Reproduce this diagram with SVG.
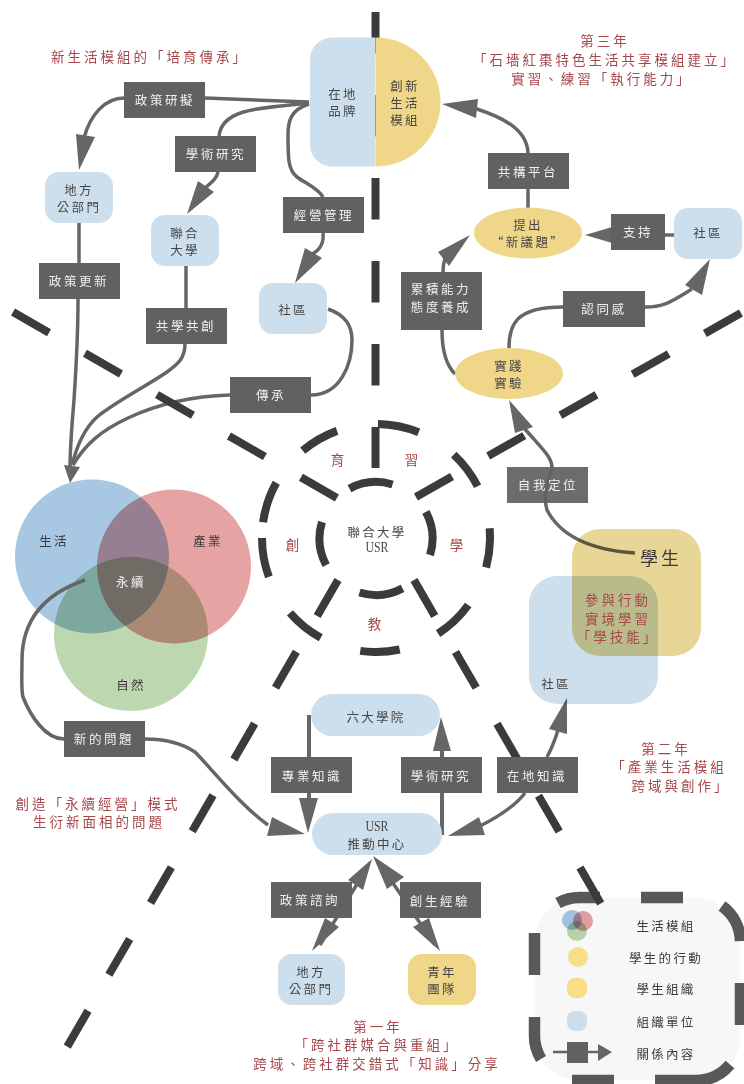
<svg xmlns="http://www.w3.org/2000/svg" width="744" height="1084" viewBox="0 0 744 1084">
<style>
text{font-family:"Noto Sans CJK TC","Noto Sans CJK SC",sans-serif;dominant-baseline:central;text-anchor:middle}
.t{font-size:12.5px;letter-spacing:2.3px;fill:#464646}
.w{font-size:12.5px;letter-spacing:2.6px;fill:#f0f0f0}
.r{font-size:13.5px;letter-spacing:3px;fill:#a6484c}
.l{font-size:12.5px;letter-spacing:2.3px;fill:#3e3a39}
.u{font-family:"Liberation Serif",serif;font-size:15px;fill:#464646}
.b{fill:#606161}
.o{fill:#cddfec}
.y{fill:#efd689}
.c{fill:none;stroke:#666;stroke-width:3.5}
.ah{fill:#666}
.d{fill:none;stroke:#3e3a39;stroke-width:8;stroke-dasharray:41.5 41.5}
.m{mix-blend-mode:multiply}
</style>
<rect width="744" height="1084" fill="#fff"/>
<g id="legend-frame">
<rect x="534.5" y="897.5" width="206" height="183" rx="45" fill="#f7f7f7"/>
<path fill="none" stroke="#595757" stroke-width="11.5" d="M641 897.5 H683 M600 897.5 H579.5 A45 45 0 0 0 558 903 M722 906 A45 45 0 0 1 740.5 941 M740.5 983 V1025 M730 1064.5 A45 45 0 0 1 695.5 1080.5 H655 M614 1080.5 H572 M541 1059 A45 45 0 0 1 534.5 1035.5 V1017 M534.5 975 V933"/>
</g>
<g id="venn">
<circle class="m" cx="92" cy="556.5" r="77" fill="#a8c7e3"/>
<circle class="m" cx="174" cy="566.5" r="77" fill="#e6a3a4"/>
<circle class="m" cx="131" cy="634" r="77" fill="#bdd8b1"/>
<text class="l" x="54" y="540">生活</text>
<text class="l" x="208" y="540">產業</text>
<text class="w" x="131" y="581">永續</text>
<text class="l" x="131" y="684">自然</text>
</g>
<g id="connectors">
<path class="c" d="M309 102 L205 98"/>
<path class="c" d="M124 98 C105 98 90 115 84 138"/>
<polygon class="ah" points="76,134 95,137 79,170"/>
<path class="c" d="M309 103 C262 108 222 108 219 136"/>
<path class="c" d="M218 172 C217 178 212 182 205 188"/>
<polygon class="ah" points="198,181 214,192 187,214"/>
<path class="c" d="M309 104 C290 110 288 122 288 135 C288 158 288 170 297 177 C305 183 318 188 323 197"/>
<path class="c" d="M323 233 C324 243 320 250 312 254"/>
<polygon class="ah" points="305,248 322,258 295,283"/>
<path class="c" d="M79 223 L79 263"/>
<path class="c" d="M78 299 C78 340 76 370 74 400 C72 425 70 445 70 470"/>
<polygon class="ah" points="64,465 80,467 70,483"/>
<path class="c" d="M186 266 L186 308"/>
<path class="c" d="M185 344 C185 358 178 364 167 372 C145 387 115 402 97 417 C85 428 77 445 72 465"/>
<path class="c" d="M328 309 C345 315 352 325 352 340 C352 365 340 395 311 395"/>
<path class="c" d="M230 395 C195 396 160 403 128 418 C100 431 85 445 73 465"/>
<path class="c" d="M528 153 C527 130 505 118 474 108"/>
<polygon class="ah" points="478,99 476,118 442,104"/>
<path class="c" d="M528 189 L528 208"/>
<path class="c" d="M674 235 L665 235"/>
<polygon class="ah" points="585,235 619,225 619,245"/>
<path class="c" d="M455 374 C446 365 442 350 442 330"/>
<path class="c" d="M443 272 C443 265 444 262 445 258"/>
<polygon class="ah" points="438,252 449,266 470,235"/>
<path class="c" d="M509 348 C509 325 515 307 563 307"/>
<path class="c" d="M645 307 C665 307 672 301 692 289"/>
<polygon class="ah" points="685,285 702,295 710,259"/>
<path class="c" d="M635 553 C590 550 560 535 547 510 C543 497 547 480 552 470 C553 458 545 452 524 428"/>
<polygon class="ah" points="509,400 533,427 515,433"/>
<path class="c" d="M547 757 C552 748 555 740 558 730"/>
<polygon class="ah" points="567,698 549,729 567,734"/>
<path class="c" d="M525 793 C515 806 500 816 480 826"/>
<polygon class="ah" points="479,817 485,835 448,836"/>
<path class="c" d="M442 835 L442 745" style="stroke-width:4"/>
<polygon class="ah" points="441,717 433,751 451,751"/>
<path class="c" d="M309 715 L309 800" style="stroke-width:4"/>
<polygon class="ah" points="299,798 318,798 308,833"/>
<path class="c" d="M85 580 C50 592 22 615 22 660 C22 675 21 690 23 697 C30 715 45 739 64 739"/>
<path class="c" d="M145 739 C165 739 183 744 195 752 C210 767 240 805 268 825"/>
<polygon class="ah" points="272,817 267,836 305,834"/>
<path class="c" d="M320 945 L368 866"/>
<polygon class="ah" points="312,951 339,927 325,918"/>
<polygon class="ah" points="372,859 348,880 363,890"/>
<path class="c" d="M380 864 L435 945"/>
<polygon class="ah" points="373,856 387,889 404,877"/>
<polygon class="ah" points="440,951 413,927 429,918"/>
</g>
<g id="dashed-lines">
<path class="d" d="M375.5 12 V468"/>
<path class="d" d="M13 312 L337 498"/>
<path class="d" d="M741 313 L414 498"/>
<path class="d" d="M338 580 L67 1047"/>
<path class="d" d="M414 580 L601 904"/>
<circle cx="376" cy="538" r="114" fill="none" stroke="#3e3a39" stroke-width="8" pathLength="360" transform="rotate(-89 376 538)" stroke-dasharray="21 21 20 22 20 21 21 21 20 21 20 21 20 8 21 21 20 21"/>
<circle cx="376" cy="538.5" r="56.5" fill="none" stroke="#3e3a39" stroke-width="8" pathLength="360" transform="rotate(-118 376 538.5)" stroke-dasharray="45 45"/>
</g>
<g id="student-areas">
<rect class="m" x="572" y="529" width="129" height="127" rx="28" fill="#e8d696"/>
<rect class="m" x="529" y="576" width="129" height="128" rx="28" fill="#cddfec"/>
<text x="661" y="557" style="font-size:18px;letter-spacing:3px;fill:#3e3a39">學生</text>
<text class="t" x="556" y="683">社區</text>
<text class="r" x="618" y="599">參與行動</text>
<text class="r" x="618" y="618">實境學習</text>
<text class="r" x="618" y="636">「學技能」</text>
</g>
<g id="node-brand">
<path class="o" d="M375.6 37.5 H332 A22 22 0 0 0 310 59.5 V144.5 A22 22 0 0 0 332 166.5 H375.6 Z"/>
<text class="t" x="343" y="93">在地</text>
<text class="t" x="343" y="110">品牌</text>
</g>
<g id="node-innovate">
<path class="y" d="M376 37.5 A64.5 64.5 0 0 1 376 166.5 Z"/>
<text class="t" x="405" y="85">創新</text>
<text class="t" x="405" y="102">生活</text>
<text class="t" x="405" y="119">模組</text>
</g>
<g id="node-gov-top"><rect class="o" x="45" y="172" width="68" height="51" rx="14"/><text class="t" x="79" y="189">地方</text><text class="t" x="79" y="206">公部門</text></g>
<g id="node-univ"><rect class="o" x="151" y="215" width="68" height="51" rx="14"/><text class="t" x="185" y="232">聯合</text><text class="t" x="185" y="249">大學</text></g>
<g id="node-comm-left"><rect class="o" x="259" y="283" width="68" height="51" rx="14"/><text class="t" x="293" y="309">社區</text></g>
<g id="node-comm-right"><rect class="o" x="674" y="208" width="68" height="51" rx="14"/><text class="t" x="708" y="232">社區</text></g>
<g id="node-six"><rect class="o" x="311" y="694" width="129" height="42" rx="21"/><text class="t" x="376" y="716">六大學院</text></g>
<g id="node-usr"><rect class="o" x="312" y="813" width="130" height="42" rx="21"/><text class="u" x="377" y="826" textLength="23" lengthAdjust="spacingAndGlyphs">USR</text><text class="t" x="377" y="843">推動中心</text></g>
<g id="node-gov-bottom"><rect class="o" x="278" y="954" width="67" height="51" rx="14"/><text class="t" x="311" y="971">地方</text><text class="t" x="311" y="988">公部門</text></g>
<g id="node-youth"><rect class="y" x="408" y="954" width="68" height="51" rx="14"/><text class="t" x="442" y="971">青年</text><text class="t" x="442" y="988">團隊</text></g>
<g id="node-issue"><ellipse class="y" cx="528" cy="233" rx="54" ry="25.5"/><text class="t" x="528" y="224">提出</text><text class="t" x="528" y="241">“新議題”</text></g>
<g id="node-practice"><ellipse class="y" cx="509" cy="373.5" rx="54" ry="25.5"/><text class="t" x="509" y="365">實踐</text><text class="t" x="509" y="382">實驗</text></g>
<g id="node-center">
<text class="t" x="377" y="531">聯合大學</text>
<text class="u" x="377" y="547" textLength="23" lengthAdjust="spacingAndGlyphs">USR</text>
</g>
<g id="ring-labels">
<text class="r" x="339" y="459">育</text>
<text class="r" x="413" y="459">習</text>
<text class="r" x="294" y="544">創</text>
<text class="r" x="458" y="544">學</text>
<text class="r" x="376" y="623">教</text>
</g>
<g id="relation-boxes">
<g id="box-1"><rect class="b" x="124" y="82" width="81" height="36"/><text class="w" x="165" y="99">政策研擬</text></g>
<g id="box-2"><rect class="b" x="175" y="136" width="81" height="36"/><text class="w" x="216" y="153">學術研究</text></g>
<g id="box-3"><rect class="b" x="283" y="197" width="81" height="36"/><text class="w" x="324" y="214">經營管理</text></g>
<g id="box-4"><rect class="b" x="39" y="263" width="81" height="36"/><text class="w" x="79" y="280">政策更新</text></g>
<g id="box-5"><rect class="b" x="146" y="308" width="81" height="36"/><text class="w" x="186" y="325">共學共創</text></g>
<g id="box-6"><rect class="b" x="230" y="377" width="81" height="36"/><text class="w" x="271" y="394">傳承</text></g>
<g id="box-7"><rect class="b" x="488" y="153" width="81" height="36"/><text class="w" x="528" y="171">共構平台</text></g>
<g id="box-8"><rect class="b" x="611" y="214" width="54" height="36"/><text class="w" x="638" y="231">支持</text></g>
<g id="box-9"><rect class="b" x="401" y="272" width="81" height="58"/><text class="w" x="441" y="288">累積能力</text><text class="w" x="441" y="306">態度養成</text></g>
<g id="box-10"><rect class="b" x="563" y="291" width="82" height="36"/><text class="w" x="604" y="308">認同感</text></g>
<g id="box-11"><rect class="b" x="507" y="467" width="81" height="36" fill-opacity=".93"/><text class="w" x="548" y="484">自我定位</text></g>
<g id="box-12"><rect class="b" x="64" y="721" width="81" height="36"/><text class="w" x="104" y="738">新的問題</text></g>
<g id="box-13"><rect class="b" x="271" y="757" width="81" height="36"/><text class="w" x="312" y="775">專業知識</text></g>
<g id="box-14"><rect class="b" x="271" y="882" width="81" height="36"/><text class="w" x="310" y="899">政策諮詢</text></g>
<g id="box-15"><rect class="b" x="401" y="757" width="81" height="36"/><text class="w" x="441" y="775">學術研究</text></g>
<g id="box-16"><rect class="b" x="497" y="757" width="81" height="36"/><text class="w" x="537" y="775">在地知識</text></g>
<g id="box-17"><rect class="b" x="400" y="882" width="81" height="36"/><text class="w" x="440" y="900">創生經驗</text></g>
</g>
<g id="captions">
<text class="r" x="150" y="56">新生活模組的「培育傳承」</text>
<text class="r" x="605" y="40">第三年</text>
<text class="r" x="605" y="59">「石墻紅棗特色生活共享模組建立」</text>
<text class="r" x="602" y="78">實習、練習「執行能力」</text>
<text class="r" x="98" y="803">創造「永續經營」模式</text>
<text class="r" x="99" y="821">生衍新面相的問題</text>
<text class="r" x="666" y="748">第二年</text>
<text class="r" x="669" y="766">「產業生活模組</text>
<text class="r" x="681" y="785">跨域與創作」</text>
<text class="r" x="378" y="1026">第一年</text>
<text class="r" x="377" y="1044">「跨社群媒合與重組」</text>
<text class="r" x="377" y="1063">跨域、跨社群交錯式「知識」分享</text>
</g>
<g id="legend">
<circle class="m" cx="572" cy="920" r="10" fill="#a8c7e3"/>
<circle class="m" cx="583" cy="921" r="10" fill="#e6a3a4"/>
<circle class="m" cx="577" cy="931" r="10" fill="#bdd8b1"/>
<circle cx="578" cy="957" r="10" fill="#f9dd88"/>
<rect x="567" y="978" width="20" height="20" rx="8" fill="#f9dd88"/>
<rect x="567" y="1011" width="20" height="20" rx="8" fill="#cddfec"/>
<path d="M553 1052 H600" stroke="#666" stroke-width="2.5" fill="none"/>
<rect class="b" x="567" y="1042" width="21" height="21"/>
<polygon class="ah" points="598,1044 612,1052 598,1061"/>
<text class="l" x="666" y="925">生活模組</text>
<text class="l" x="666" y="957">學生的行動</text>
<text class="l" x="666" y="988">學生組織</text>
<text class="l" x="666" y="1021">組織單位</text>
<text class="l" x="666" y="1053">關係內容</text>
</g>
</svg>
